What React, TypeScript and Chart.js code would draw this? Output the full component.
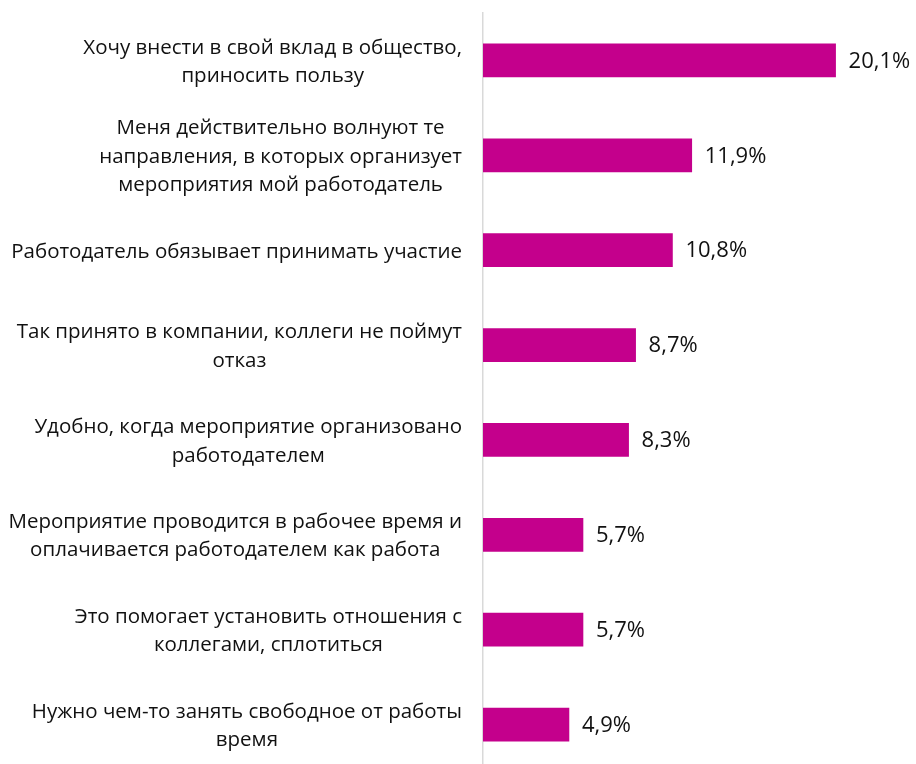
import React, { useEffect, useRef } from "react";
import { Chart, registerables } from "chart.js";

Chart.register(...registerables);

const categories: string[][] = [
  ["Хочу внести в свой вклад в общество,", "приносить пользу"],
  ["Меня действительно волнуют те", "направления, в которых организует", "мероприятия мой работодатель"],
  ["Работодатель обязывает принимать участие"],
  ["Так принято в компании, коллеги не поймут", "отказ"],
  ["Удобно, когда мероприятие организовано", "работодателем"],
  ["Мероприятие проводится в рабочее время и", "оплачивается работодателем как работа"],
  ["Это помогает установить отношения с", "коллегами, сплотиться"],
  ["Нужно чем-то занять свободное от работы", "время"],
];

const values: number[] = [20.1, 11.9, 10.8, 8.7, 8.3, 5.7, 5.7, 4.9];

const FONT = '"Open Sans", sans-serif';
const LABEL_SIZE = 20.5;
const LINE_H = 28.5;
const VALUE_SIZE = 22;

const labelPlugin = {
  id: "customLabels",
  afterDatasetsDraw(chart: any) {
    const ctx = chart.ctx as CanvasRenderingContext2D;
    const yScale = chart.scales.y;
    const area = chart.chartArea;
    ctx.save();
    ctx.fillStyle = "#111111";
    ctx.textBaseline = "middle";
    ctx.font = `${LABEL_SIZE}px ${FONT}`;
    categories.forEach((lines, i) => {
      const cy = yScale.getPixelForValue(i) + 1.5;
      const widths = lines.map((l) => ctx.measureText(l).width);
      const bw = Math.max(...widths);
      const right = area.left - 21;
      const cx = right - bw / 2;
      ctx.textAlign = "center";
      const startY = cy - ((lines.length - 1) * LINE_H) / 2;
      lines.forEach((l, j) => {
        ctx.fillText(l, cx, startY + j * LINE_H);
      });
    });
    ctx.font = `${VALUE_SIZE}px ${FONT}`;
    ctx.textAlign = "left";
    const meta = chart.getDatasetMeta(0);
    meta.data.forEach((bar: any, i: number) => {
      const txt = values[i].toFixed(1).replace(".", ",") + "%";
      ctx.fillText(txt, bar.x + 13, bar.y + 1);
    });
    ctx.restore();
  },
};

export default function App() {
  const ref = useRef<HTMLCanvasElement | null>(null);
  useEffect(() => {
    if (!ref.current) return;
    const chart = new Chart(ref.current, {
      type: "bar",
      data: {
        labels: categories.map((c) => c.join(" ")),
        datasets: [
          {
            data: values,
            backgroundColor: "#C4008C",
            barThickness: 33,
          },
        ],
      },
      options: {
        indexAxis: "y",
        animation: false,
        responsive: true,
        maintainAspectRatio: false,
        layout: { padding: { top: 13, bottom: 8, right: 12, left: 0 } },
        plugins: {
          legend: { display: false },
          tooltip: { enabled: false },
        },
        scales: {
          x: {
            display: false,
            min: 0,
            max: 24,
          },
          y: {
            display: true,
            grid: { display: false },
            ticks: { display: false },
            border: { display: true, color: "#d9d9d9", width: 1.5 },
            afterFit: (scale: any) => {
              scale.width = 483;
            },
          },
        },
      },
      plugins: [labelPlugin],
    });
    return () => chart.destroy();
  }, []);

  return (
    <div
      style={{
        position: "fixed",
        top: 0,
        left: 0,
        width: 916,
        height: 764,
        overflow: "hidden",
        background: "#fff",
      }}
    >
      <div style={{ position: "relative", width: 916, height: 780 }}>
        <canvas ref={ref} />
      </div>
    </div>
  );
}
